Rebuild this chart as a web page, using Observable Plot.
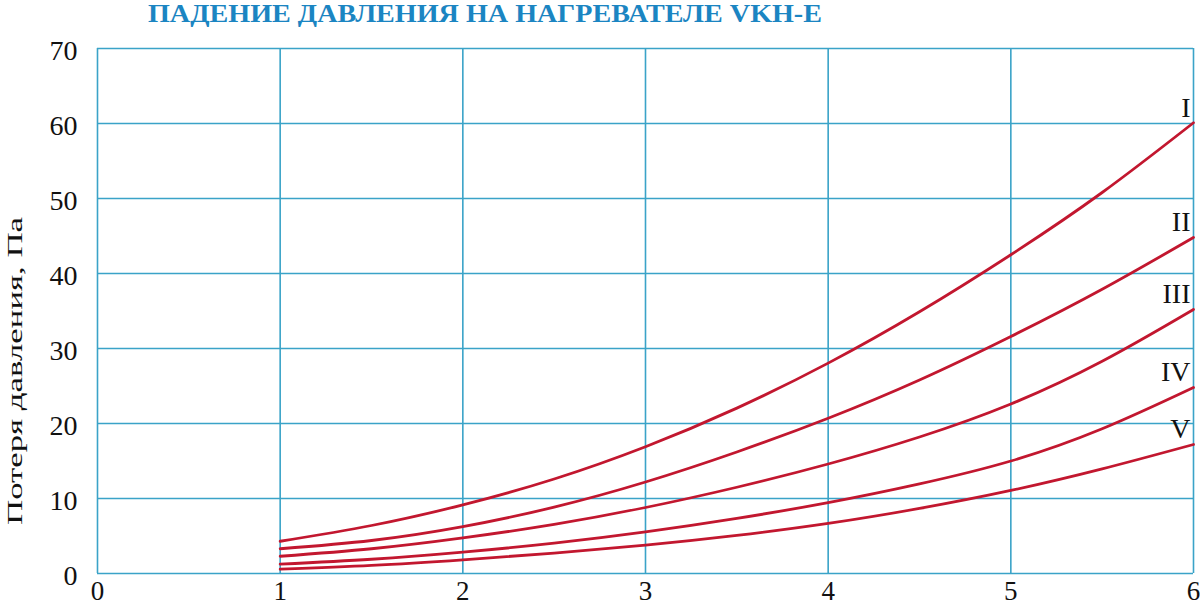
<!DOCTYPE html>
<html><head><meta charset="utf-8">
<script src="https://cdn.jsdelivr.net/npm/d3@7"></script>
<script src="https://cdn.jsdelivr.net/npm/@observablehq/plot@0.6"></script>
<style>
body{margin:0;background:#fff;}
#wrap{position:relative;width:1200px;height:607px;overflow:hidden;}
#title{position:absolute;left:148px;top:0px;font:bold 25px "Liberation Serif";color:#1b85c2;white-space:nowrap;transform-origin:0 0;}
</style></head><body>
<div id="wrap"><div id="title">ПАДЕНИЕ ДАВЛЕНИЯ НА НАГРЕВАТЕЛЕ VKH-E</div></div>
<script>
const xValues = [1, 1.5, 2, 2.5, 3, 3.5, 4, 4.5, 5, 5.5, 6];
const curveI   = [4.3, 6.4, 9.15, 12.6, 16.9, 22.05, 28.05, 34.9, 42.5, 50.8, 60.1];
const curveII  = [3.3, 4.4, 6.25, 8.85, 12.2, 16.2, 20.7, 25.8, 31.6, 37.9, 44.8];
const curveIII = [2.3, 3.3, 4.75, 6.55, 8.8, 11.5, 14.6, 18.2, 22.6, 28.3, 35.2];
const curveIV  = [1.24, 1.9, 2.85, 4.05, 5.55, 7.35, 9.45, 11.95, 15.0, 19.3, 24.8];
const curveV   = [0.57, 1.07, 1.82, 2.72, 3.77, 5.07, 6.67, 8.67, 11.07, 13.95, 17.2];
const seriesNames = ["I", "II", "III", "IV", "V"];
const xTicks = [0, 1, 2, 3, 4, 5, 6];
const yTicks = [0, 10, 20, 30, 40, 50, 60, 70];
const yLabel = "Потеря давления, Па";

const allSeries = [curveI, curveII, curveIII, curveIV, curveV];
const data = seriesNames.flatMap((s, i) => xValues.map((x, j) => ({series: s, x, y: allSeries[i][j]})));
const ends = seriesNames.map((s, i) => ({series: s, x: xValues[xValues.length - 1], y: allSeries[i][xValues.length - 1]}));

const gridColor = "#3aa3c8";
const lineColor = "#c2172f";

const svg = Plot.plot({
  width: 1200, height: 607,
  marginLeft: 97, marginRight: 7, marginTop: 48, marginBottom: 34,
  x: {domain: [0, 6]},
  y: {domain: [0, 70]},
  style: {fontFamily: "Liberation Serif", fontSize: "28px", color: "#111", background: "transparent", overflow: "visible"},
  marks: [
    Plot.gridX(xTicks, {stroke: gridColor, strokeOpacity: 1, strokeWidth: 1.6}),
    Plot.gridY(yTicks, {stroke: gridColor, strokeOpacity: 1, strokeWidth: 1.6}),
    Plot.axisX(xTicks, {tickSize: 0, tickPadding: 7, label: null, fontSize: 27, tickFormat: d3.format("d")}),
    Plot.axisY(yTicks, {tickSize: 0, tickPadding: 20, label: null, fontSize: 28, dy: 3, tickFormat: d3.format("d")}),
    Plot.line(data, {x: "x", y: "y", z: "series", stroke: lineColor, strokeWidth: 2.8, curve: "natural"}),
    Plot.text(ends, {x: "x", y: "y", text: "series", textAnchor: "end", dx: -3, dy: -15, fontSize: 28, fill: "#111"})
  ]
});
d3.select(svg).append("text")
  .attr("transform", "translate(17,371) rotate(-90)")
  .attr("text-anchor", "middle")
  .attr("dominant-baseline", "middle")
  .attr("font-size", 22)
  .attr("fill", "#111")
  .attr("textLength", 308)
  .attr("lengthAdjust", "spacingAndGlyphs")
  .text(yLabel);
const wrap = document.getElementById("wrap");
wrap.prepend(svg);
svg.style.position = "absolute";
svg.style.left = "0";
svg.style.top = "0";
const title = document.getElementById("title");
const w = title.getBoundingClientRect().width;
title.style.transform = `scaleX(${674 / w})`;
</script>
</body></html>
